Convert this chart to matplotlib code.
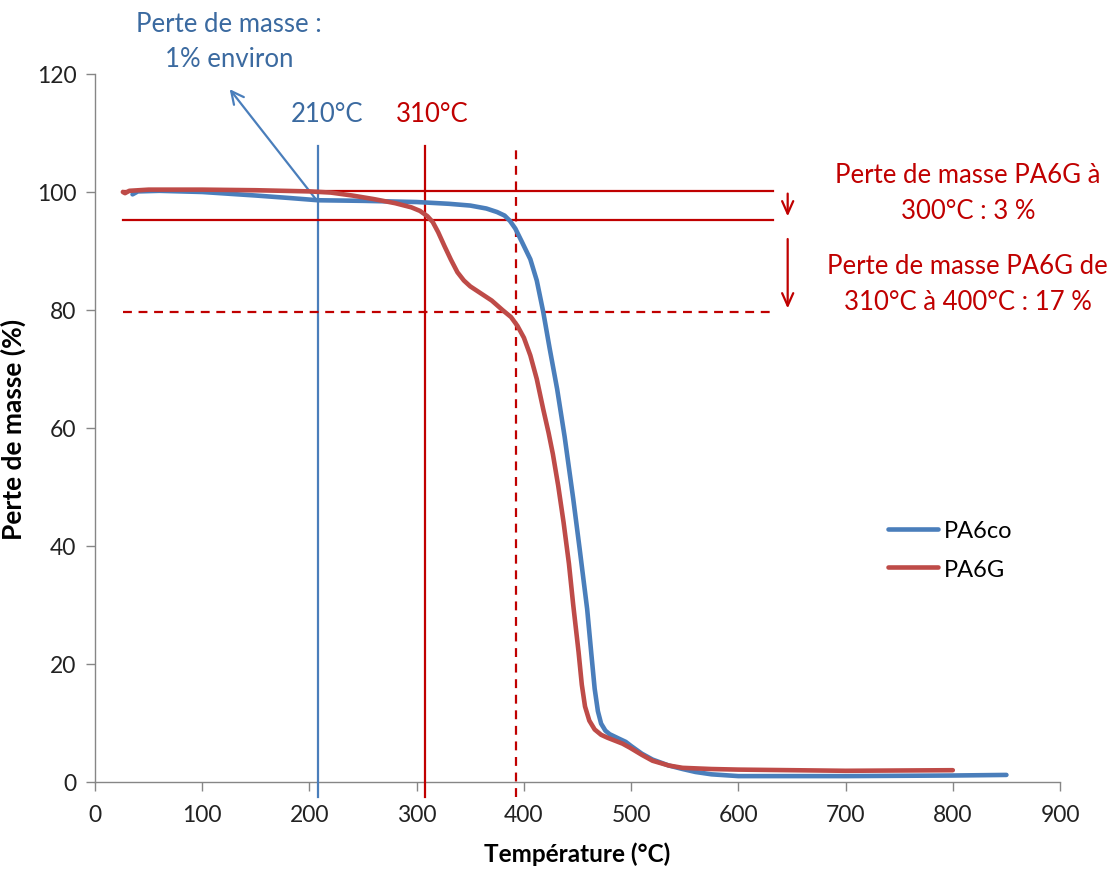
import numpy as np
import matplotlib
matplotlib.use('Agg')
import matplotlib.pyplot as plt

plt.rcParams['font.family'] = ['Lato', 'DejaVu Sans']

# TGA curves
temp_co = [35, 40, 60, 100, 150, 180, 208, 250, 300, 330, 350, 365, 375, 382, 387, 392, 398,
           406, 412, 418, 424, 431, 438, 446, 452, 459, 463, 466, 469, 472, 476, 480, 488, 495,
           500, 510, 520, 535, 548, 560, 575, 600, 650, 700, 800, 850]
mass_co = [99.6, 100.1, 100.2, 100.0, 99.4, 99.0, 98.6, 98.5, 98.3, 98.0, 97.7, 97.2, 96.6, 96.0, 95.1, 93.8, 91.6,
           88.6, 85.0, 79.7, 73.5, 66.6, 58.5, 48.0, 39.5, 29.3, 21.5, 15.8, 12.0, 9.9, 8.7, 8.1, 7.4, 6.8,
           6.1, 4.8, 3.8, 2.8, 2.2, 1.7, 1.3, 1.0, 1.0, 1.0, 1.1, 1.2]

temp_g = [26, 28, 32, 50, 100, 150, 200, 220, 240, 260, 280, 295, 303, 310, 315, 320, 326, 332,
          338, 344, 350, 360, 370, 380, 388, 394, 400, 406, 412, 418, 423, 427, 432, 437, 442,
          446, 451, 454, 457, 461, 466, 472, 478, 485, 492, 499, 510, 520, 535, 548, 575, 600, 700, 800]
mass_g = [100.0, 99.8, 100.2, 100.4, 100.4, 100.3, 100.1, 99.9, 99.4, 98.8, 98.1, 97.4, 96.8, 95.9, 94.9, 93.2, 90.8, 88.5,
          86.4, 85.0, 84.0, 82.8, 81.6, 80.0, 78.8, 77.3, 75.3, 72.3, 68.3, 63.2, 59.2, 55.6, 50.2, 44.0, 37.0,
          30.0, 22.0, 16.5, 12.8, 10.4, 8.9, 8.0, 7.5, 7.0, 6.5, 5.8, 4.6, 3.6, 2.8, 2.4, 2.2, 2.1, 1.9, 2.0]

# repere lines
t_blue = 208
t_red = 308
t_red2 = 393
m_top = 100.2
m_mid = 95.2
m_low = 79.7

fig = plt.figure(figsize=(11.19, 8.70), dpi=100)
ax = fig.add_axes([0.0849, 0.1, 0.8624, 0.8138])

blue = '#4A7EBB'
red = '#BE4B48'
dred = '#C00000'
tblue = '#3B6AA0'

ax.plot(temp_co, mass_co, color=blue, lw=3.3, label='PA6co', solid_capstyle='round',
        solid_joinstyle='round', zorder=4)
ax.plot(temp_g, mass_g, color=red, lw=3.3, label='PA6G', solid_capstyle='round',
        solid_joinstyle='round', zorder=5)

# vertical lines
ax.plot([t_blue, t_blue], [-2.5, 107.8], color=blue, lw=1.6, clip_on=False, zorder=3)
ax.plot([t_red, t_red], [-2.5, 107.8], color=dred, lw=1.6, clip_on=False, zorder=3)
ax.plot([t_red2, t_red2], [-2.5, 107.8], color=dred, lw=1.6, ls=(0, (4, 3)), clip_on=False, zorder=3)

# horizontal lines
ax.plot([26, 632], [m_top, m_top], color=dred, lw=1.6, zorder=3)
ax.plot([26, 632], [m_mid, m_mid], color=dred, lw=1.6, zorder=3)
ax.plot([26, 632], [m_low, m_low], color=dred, lw=1.6, ls=(0, (4, 3)), zorder=3)

# arrows
ax.annotate('', xy=(124, 117.8), xytext=(t_blue, 98.3),
            arrowprops=dict(arrowstyle='->,head_length=0.9,head_width=0.45', color=blue, lw=1.6))
ax.annotate('', xy=(646, 95.4), xytext=(646, 100.2),
            arrowprops=dict(arrowstyle='->,head_length=0.9,head_width=0.4', color=dred, lw=1.6))
ax.annotate('', xy=(646, 79.8), xytext=(646, 92.5),
            arrowprops=dict(arrowstyle='->,head_length=0.9,head_width=0.4', color=dred, lw=1.6))

# texts
fs = 18.5
ax.text(125, 128.6, 'Perte de masse :', color=tblue, fontsize=fs, ha='center', va='center', clip_on=False)
ax.text(125, 122.7, '1% environ', color=tblue, fontsize=fs, ha='center', va='center', clip_on=False)
ax.text(216, 113.3, '210°C', color=tblue, fontsize=fs, ha='center', va='center')
ax.text(314, 113.3, '310°C', color=dred, fontsize=fs, ha='center', va='center')
ax.text(814, 103.0, 'Perte de masse PA6G à', color=dred, fontsize=fs, ha='center', va='center', clip_on=False)
ax.text(814, 96.8, '300°C : 3 %', color=dred, fontsize=fs, ha='center', va='center', clip_on=False)
ax.text(814, 87.5, 'Perte de masse PA6G de', color=dred, fontsize=fs, ha='center', va='center', clip_on=False)
ax.text(814, 81.5, '310°C à 400°C : 17 %', color=dred, fontsize=fs, ha='center', va='center', clip_on=False)

ax.set_xlim(0, 900)
ax.set_ylim(0, 120)
ax.set_xticks(np.arange(0, 901, 100))
ax.set_yticks(np.arange(0, 121, 20))
for s in ['top', 'right']:
    ax.spines[s].set_visible(False)
for s in ['left', 'bottom']:
    ax.spines[s].set_color('#868686')
    ax.spines[s].set_linewidth(1.0)
ax.tick_params(axis='both', colors='#868686', labelcolor='#222222', labelsize=16.5,
               direction='out', length=6.5, width=1.0)
ax.tick_params(axis='x', pad=9)
ax.tick_params(axis='y', pad=7)

ax.set_xlabel('Température (°C)', fontsize=17.5, fontweight='bold', labelpad=12)
ax.set_ylabel('Perte de masse (%)', fontsize=19, fontweight='bold', labelpad=8)

leg = ax.legend(loc='upper left', bbox_to_anchor=(0.8, 0.4), frameon=False, fontsize=17,
                handlelength=2.1, handletextpad=0.25, labelspacing=0.75)

fig.savefig('out.png', dpi=100)
